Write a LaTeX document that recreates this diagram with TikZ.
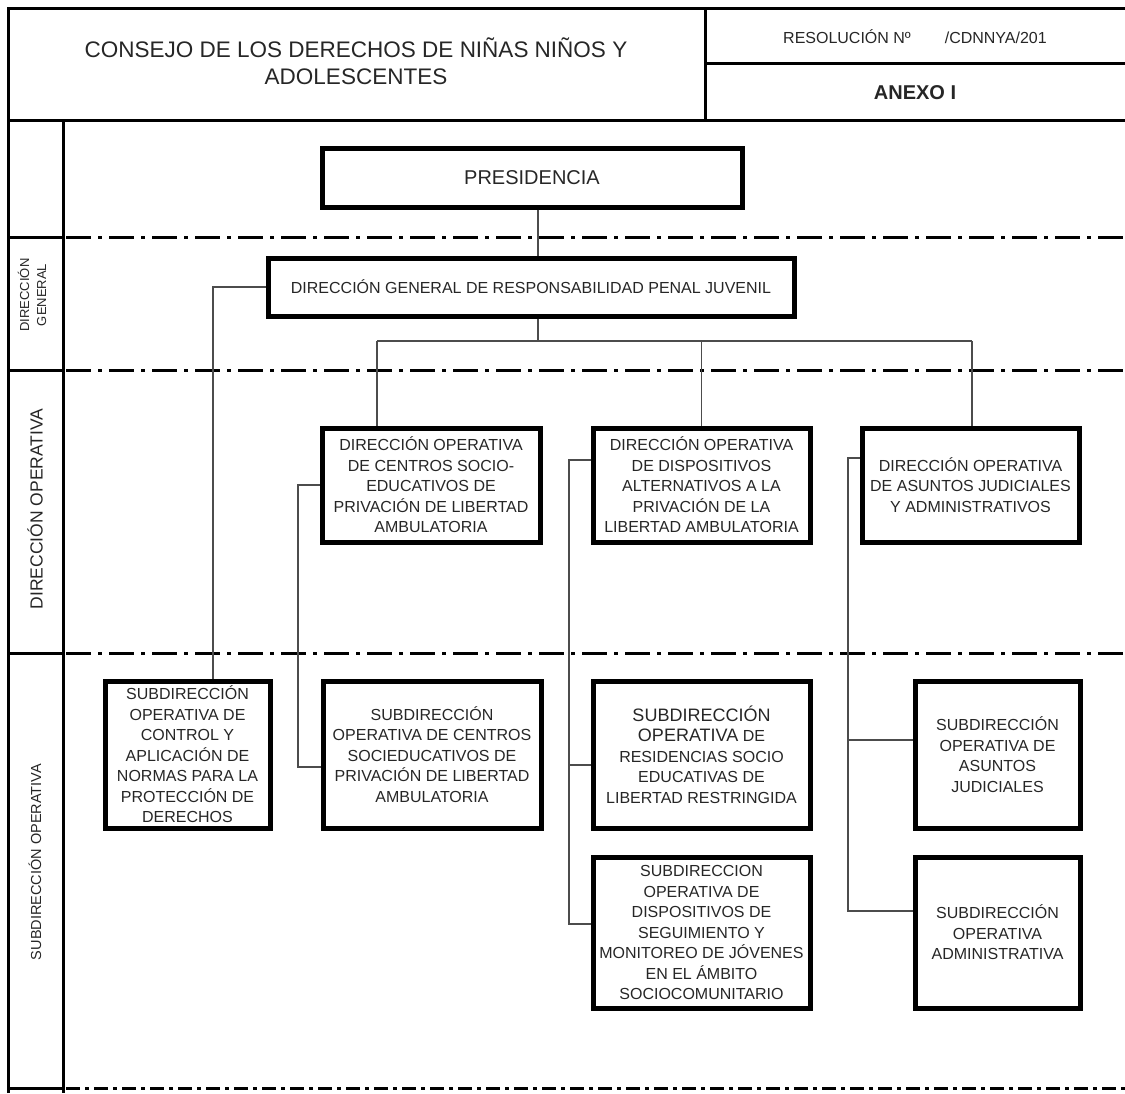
\documentclass[tikz,border=0pt]{standalone}
\usepackage{fontspec}
\setmainfont{Liberation Sans}
\usetikzlibrary{calc}

\begin{document}
\begin{tikzpicture}[
    x=1pt, y=-1pt,
    font=\fontsize{16}{20.5}\selectfont,
    unit/.style={draw, line width=5pt, align=center, inner sep=0pt, text=black!85},
    head/.style={align=center, inner sep=0pt, text=black!85},
    side/.style={head, rotate=90},
    frame/.style={line width=3pt},
    band/.style={line width=3pt, dash pattern=on 25pt off 7pt on 4pt off 7pt},
    bandend/.style={line width=3pt, dash pattern=on 14pt off 5pt on 4pt off 5pt},
    link/.style={line width=1.4pt, draw=black!70}
]
\useasboundingbox (0,0) rectangle (1125,1093);

% ================= HEADER =================
\draw[frame] (8,1093) -- (8,8) -- (1125,8);
\draw[frame] (8,120) -- (1125,120);
\draw[frame] (705,8) -- (705,120);
\draw[frame] (705,63) -- (1125,63);

\node[head, font=\fontsize{22.5}{27}\selectfont] (title) at (356,61) {CONSEJO DE LOS DERECHOS DE NIÑAS NIÑOS Y\\ADOLESCENTES};
\node[head, font=\fontsize{16}{19}\selectfont] (resol) at (915,37) {RESOLUCIÓN Nº\hspace{34pt}/CDNNYA/201};
\node[head, font=\fontsize{20}{24}\selectfont\bfseries] (anexo) at (915,93) {ANEXO I};

% ================= LEFT COLUMN =================
\draw[frame] (63,120) -- (63,1093);
\foreach \yy in {237,370,653,1088}
    \draw[frame] (8,\yy) -- (63,\yy);

\node[side, font=\fontsize{13}{17}\selectfont] (lblDG) at (32,295) {DIRECCIÓN\\GENERAL};
\node[side, font=\fontsize{17.5}{20}\selectfont] (lblDO) at (35,509) {DIRECCIÓN OPERATIVA};
\node[side, font=\fontsize{14.5}{17}\selectfont] (lblSO) at (35,862) {SUBDIRECCIÓN OPERATIVA};

% band separators
\foreach \yy in {237,370,653}
    \draw[band] (66,\yy) -- (1125,\yy);
\draw[bandend] (66,1088) -- (1125,1088);

% ================= PRESIDENCIA / DIRECCIÓN GENERAL =================
\node[unit, minimum width=420pt, minimum height=59pt, font=\fontsize{20}{24}\selectfont] (pres) at (532,177.5) {PRESIDENCIA};
\node[unit, minimum width=526pt, minimum height=58pt] (dirGen) at (531,287) {DIRECCIÓN GENERAL DE RESPONSABILIDAD PENAL JUVENIL};

% ================= DIRECCIONES OPERATIVAS =================
\node[unit, minimum width=218pt, minimum height=114pt] (dirOp1) at (431,485) {DIRECCIÓN OPERATIVA\\DE CENTROS SOCIO-\\EDUCATIVOS DE\\PRIVACIÓN DE LIBERTAD\\AMBULATORIA};
\node[unit, minimum width=217pt, minimum height=114pt] (dirOp2) at (701.5,485) {DIRECCIÓN OPERATIVA\\DE DISPOSITIVOS\\ALTERNATIVOS A LA\\PRIVACIÓN DE LA\\LIBERTAD AMBULATORIA};
\node[unit, minimum width=217pt, minimum height=114pt] (dirOp3) at (970.5,485) {DIRECCIÓN OPERATIVA\\DE ASUNTOS JUDICIALES\\Y ADMINISTRATIVOS};

% ================= SUBDIRECCIONES OPERATIVAS =================
\node[unit, minimum width=165pt, minimum height=147pt] (subOp1) at (187.5,754.5) {SUBDIRECCIÓN\\OPERATIVA DE\\CONTROL Y\\APLICACIÓN DE\\NORMAS PARA LA\\PROTECCIÓN DE\\DERECHOS};
\node[unit, minimum width=218pt, minimum height=147pt] (subOp2) at (432,754.5) {SUBDIRECCIÓN\\OPERATIVA DE CENTROS\\SOCIEDUCATIVOS DE\\PRIVACIÓN DE LIBERTAD\\AMBULATORIA};
\node[unit, minimum width=217pt, minimum height=147pt] (subOp3) at (701.5,754.5) {{\fontsize{18}{22}\selectfont SUBDIRECCIÓN}\\{\fontsize{18}{22}\selectfont OPERATIVA} DE\\RESIDENCIAS SOCIO\\EDUCATIVAS DE\\LIBERTAD RESTRINGIDA};
\node[unit, minimum width=217pt, minimum height=151pt] (subOp4) at (701.5,932.5) {SUBDIRECCION\\OPERATIVA DE\\DISPOSITIVOS DE\\SEGUIMIENTO Y\\MONITOREO DE JÓVENES\\EN EL ÁMBITO\\SOCIOCOMUNITARIO};
\node[unit, minimum width=165pt, minimum height=147pt] (subOp5) at (997.5,754.5) {SUBDIRECCIÓN\\OPERATIVA DE\\ASUNTOS\\JUDICIALES};
\node[unit, minimum width=165pt, minimum height=151pt] (subOp6) at (997.5,932.5) {SUBDIRECCIÓN\\OPERATIVA\\ADMINISTRATIVA};

% ================= CONNECTORS =================
\coordinate (trunk) at (538,341);
\coordinate (busL) at (377,341);
\coordinate (busR) at (972,341);
\draw[link] (pres.south -| trunk) -- (dirGen.north -| trunk);
\draw[link] (dirGen.south -| trunk) -- (trunk);
\draw[link] (busL) -- (busR);
\draw[link] (busL) -- (busL |- dirOp1.north);
\draw[link] (dirOp2.north |- trunk) -- (dirOp2.north);
\draw[link] (busR) -- (busR |- dirOp3.north);

% direccion general -> control y aplicacion
\coordinate (dgDrop) at (213,287);
\draw[link] (dirGen.west) -- (dgDrop) -- (dgDrop |- subOp1.north);

% centros socioeducativos
\coordinate (spine1) at (298,767);
\draw[link] (dirOp1.west) -| (spine1) -- (spine1 -| subOp2.west);

% dispositivos alternativos
\coordinate (spine2top) at (569,460);
\coordinate (branch2) at (569,765);
\coordinate (spine2) at (569,924);
\draw[link] (spine2top -| dirOp2.west) -- (spine2top) -- (spine2) -- (spine2 -| subOp4.west);
\draw[link] (branch2) -- (branch2 -| subOp3.west);

% asuntos judiciales y administrativos
\coordinate (spine3top) at (848,458);
\coordinate (branch3) at (848,740);
\coordinate (spine3) at (848,911);
\draw[link] (spine3top -| dirOp3.west) -- (spine3top) -- (spine3) -- (spine3 -| subOp6.west);
\draw[link] (branch3) -- (branch3 -| subOp5.west);

\end{tikzpicture}
\end{document}
